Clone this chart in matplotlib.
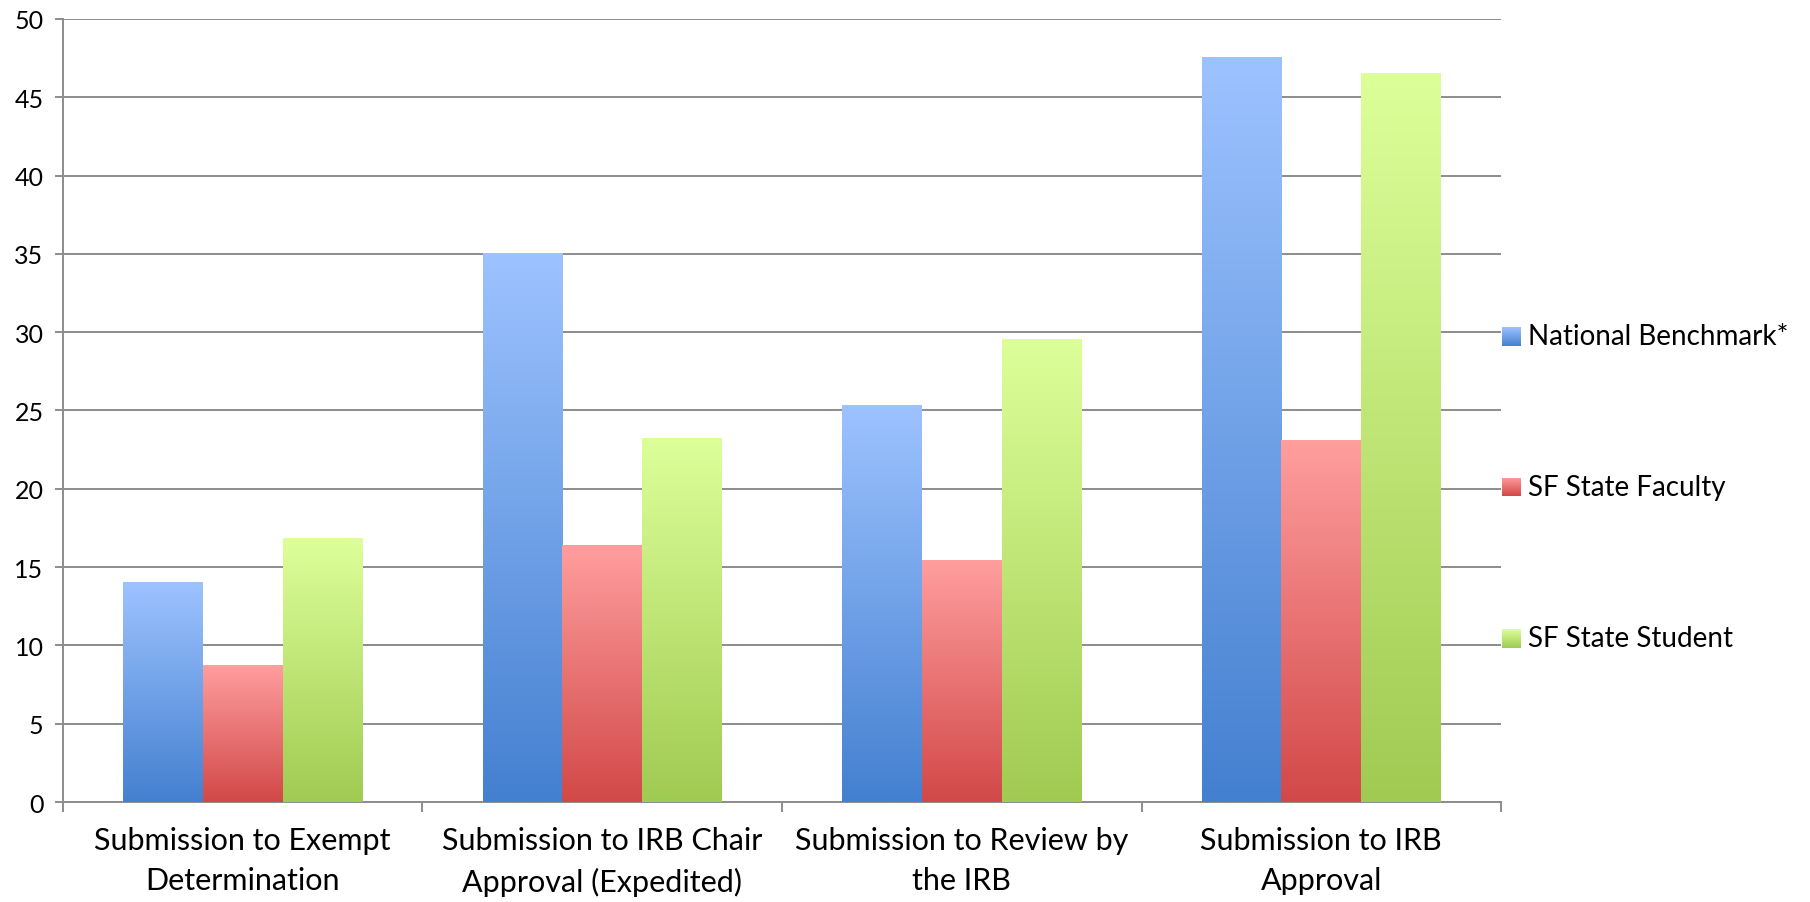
import numpy as np
import matplotlib
matplotlib.use("Agg")
import matplotlib.pyplot as plt
from matplotlib.colors import LinearSegmentedColormap

categories = ["Submission to Exempt\nDetermination",
              "Submission to IRB Chair\nApproval (Expedited)",
              "Submission to Review by\nthe IRB",
              "Submission to IRB\nApproval"]
series_names = ["National Benchmark*", "SF State Faculty", "SF State Student"]
national = [14.0, 35.0, 25.3, 47.5]
faculty = [8.7, 16.4, 15.4, 23.1]
student = [16.8, 23.2, 29.5, 46.5]
yticks = [0, 5, 10, 15, 20, 25, 30, 35, 40, 45, 50]

grad = [("#9DC3FF", "#4480D0"), ("#FF9E9E", "#D24848"), ("#DDFF99", "#A0CB52")]

plt.rcParams['font.family'] = ['Lato', 'DejaVu Sans']
fig = plt.figure(figsize=(18.10, 9.03), dpi=100)
ax = fig.add_axes([0.0348, 0.1107, 0.7945, 0.8673])

x = np.arange(len(categories))
width = 0.222
offsets = [-width, 0, width]
gradimg = np.linspace(1, 0, 256).reshape(-1, 1)
for vals, off, (top, bot) in zip([national, faculty, student], offsets, grad):
    cmap = LinearSegmentedColormap.from_list("g", [bot, top])
    bars = ax.bar(x + off, vals, width=width, color=top, zorder=2)
    for b in bars:
        x0, y0 = b.get_x(), b.get_y()
        w, h = b.get_width(), b.get_height()
        ax.imshow(gradimg, cmap=cmap, vmin=0, vmax=1, aspect='auto',
                  extent=[x0, x0 + w, y0, y0 + h], zorder=3, interpolation='bilinear')

ax.set_xlim(-0.5, len(categories) - 0.5)
ax.set_ylim(0, 50)
ax.set_yticks(yticks)
ax.set_yticklabels([str(t) for t in yticks], fontsize=18)
ax.yaxis.grid(True, color="#8C8C8C", linewidth=1.4, zorder=1)
ax.set_axisbelow(True)

ax.set_xticks(np.arange(len(categories) + 1) - 0.5)
ax.set_xticklabels([])
ax.set_xticks(x, minor=True)
ax.set_xticklabels(categories, minor=True, fontsize=22, linespacing=1.55)
ax.tick_params(axis='x', which='minor', length=0, pad=17)
ax.tick_params(axis='x', which='major', length=7, width=1.4, color="#8C8C8C")
ax.tick_params(axis='y', length=6, width=1.4, color="#8C8C8C", pad=8)

for s in ["top", "right"]:
    ax.spines[s].set_visible(False)
for s in ["left", "bottom"]:
    ax.spines[s].set_color("#8C8C8C")
    ax.spines[s].set_linewidth(1.4)

# legend
leg_y = [337, 488, 639]
for name, (top, bot), yy in zip(series_names, grad, leg_y):
    cmap = LinearSegmentedColormap.from_list("g", [bot, top])
    sq = 19
    lax = fig.add_axes([1502 / 1810, 1 - (yy + sq / 2) / 903, sq / 1810, sq / 903])
    lax.imshow(gradimg, cmap=cmap, vmin=0, vmax=1, aspect='auto', interpolation='bilinear')
    lax.axis('off')
    fig.text(1528 / 1810, 1 - yy / 903, name, fontsize=20, va='center', ha='left')

fig.savefig("out.png", dpi=100)
